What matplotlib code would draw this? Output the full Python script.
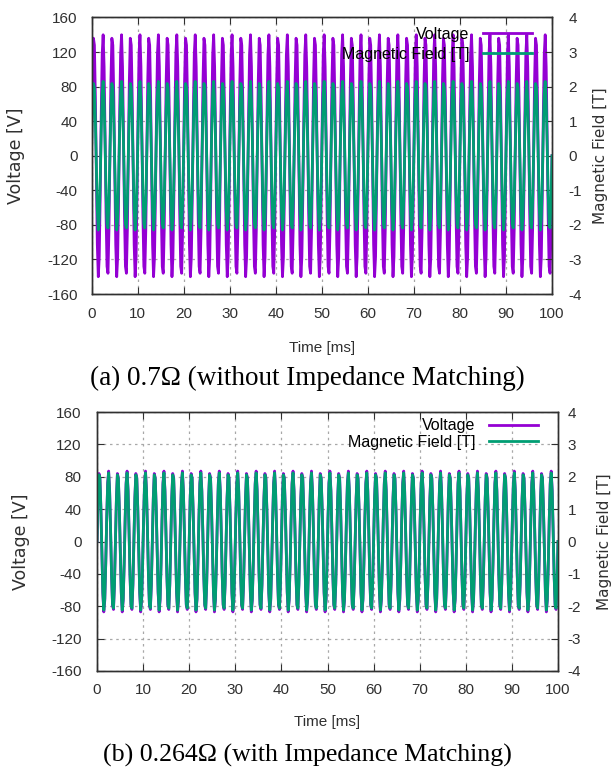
import numpy as np
import matplotlib
matplotlib.use("Agg")
import matplotlib.pyplot as plt

# one 4 ms window (two 500 Hz periods, 19 samples), repeated over 100 ms
window_ms = 4.0
n_windows = 25

volt_a = [0, 86, 136, 128, 67, -23, -103, -140, -117, -45, 45, 117, 140, 103, 23, -67, -128, -136, -86]
field_a = [0.0, 1.32, 2.09, 1.97, 1.03, -0.35, -1.58, -2.15, -1.80, -0.69, 0.69, 1.80, 2.15, 1.58, 0.35, -1.03, -1.97, -2.09, -1.32]

volt_b = [0, 54, 84, 79, 42, -14, -64, -87, -73, -28, 28, 73, 87, 64, 14, -42, -79, -84, -54]
field_b = [0.0, 1.30, 2.06, 1.94, 1.01, -0.34, -1.55, -2.12, -1.77, -0.68, 0.68, 1.77, 2.12, 1.55, 0.34, -1.01, -1.94, -2.06, -1.30]

volt_ticks = [-160, -120, -80, -40, 0, 40, 80, 120, 160]
field_ticks = [-4, -3, -2, -1, 0, 1, 2, 3, 4]
time_ticks = [0, 10, 20, 30, 40, 50, 60, 70, 80, 90, 100]

captions = ["(a) 0.7\u03a9 (without Impedance Matching)",
            "(b) 0.264\u03a9 (with Impedance Matching)"]

PURPLE = "#9400d3"
GREEN = "#009e73"
TXT = "#303030"

plt.rcParams["font.family"] = ["Liberation Sans", "DejaVu Sans"]
plt.rcParams["font.size"] = 11
plt.rcParams["axes.unicode_minus"] = False

W, H = 614, 776


def series(window):
    vals = np.tile(np.array(window, dtype=float), n_windows)
    vals = np.append(vals, window[0])
    t = np.linspace(0, window_ms * n_windows, len(vals))
    return t, vals


def panel(box, volt, field, leg_anchor, leg_space, pads, labx, laby):
    # box in pixels: left, top, right, bottom
    l, t_, r, b_ = box
    ax = fig.add_axes([l / W, 1 - b_ / H, (r - l) / W, (b_ - t_) / H])
    ax2 = ax.twinx()
    t, v = series(volt)
    _, b = series(field)
    lv, = ax.plot(t, v, color=PURPLE, lw=2.0)
    lb, = ax2.plot(t, b, color=GREEN, lw=2.0)

    ax.set_xlim(0, 100)
    ax.set_ylim(-160, 160)
    ax2.set_ylim(-4, 4)
    ax.set_xticks(time_ticks)
    ax.set_yticks(volt_ticks)
    ax2.set_yticks(field_ticks)
    ax.grid(True, color="#a8a8a8", linestyle=(0, (2, 3)), lw=0.9)
    ax.tick_params(axis="x", direction="in", length=5, top=True, pad=9, colors=TXT)
    ax.tick_params(axis="y", direction="in", length=5, pad=pads[0], colors=TXT)
    ax2.tick_params(axis="y", direction="in", length=5, pad=pads[1], colors=TXT)
    for sp in list(ax.spines.values()) + list(ax2.spines.values()):
        sp.set_color("#303030")
        sp.set_linewidth(1.0)

    fig.text((l + r) / 2 / W, 1 - labx / H, "Time [ms]", ha="center", va="center",
             fontsize=11, color=TXT)
    fig.text(laby[0] / W, 1 - (t_ + b_) / 2 / H, "Voltage [V]", rotation=90,
             ha="center", va="center", fontsize=12.5, family="DejaVu Sans", color=TXT)
    fig.text(laby[1] / W, 1 - (t_ + b_) / 2 / H, "Magnetic Field [T]", rotation=90,
             ha="center", va="center", fontsize=11, family="DejaVu Sans", color=TXT)

    ax2.legend([lv, lb], ["Voltage", "Magnetic Field [T]"], loc="upper right",
               bbox_to_anchor=leg_anchor, frameon=False, markerfirst=False,
               handlelength=3.06, handletextpad=0.87, labelspacing=leg_space,
               borderpad=0, borderaxespad=0, fontsize=11.5)
    return ax


fig = plt.figure(figsize=(W / 100, H / 100), dpi=100)

panel((91.5, 17.5, 552, 294), volt_a, field_a, (0.957, 0.966), 0.32, (10, 12), 348, (16, 601))
panel((97, 412, 558, 671), volt_b, field_b, (0.957, 0.975), 0.08, (11, 7), 722, (21, 604))

fig.text(307 / W, 1 - 378 / H, captions[0], ha="center", va="center",
         fontsize=19.5, family="Liberation Serif")
fig.text(307 / W, 1 - 755 / H, captions[1], ha="center", va="center",
         fontsize=18.6, family="Liberation Serif")

fig.savefig("out.png", dpi=100)
